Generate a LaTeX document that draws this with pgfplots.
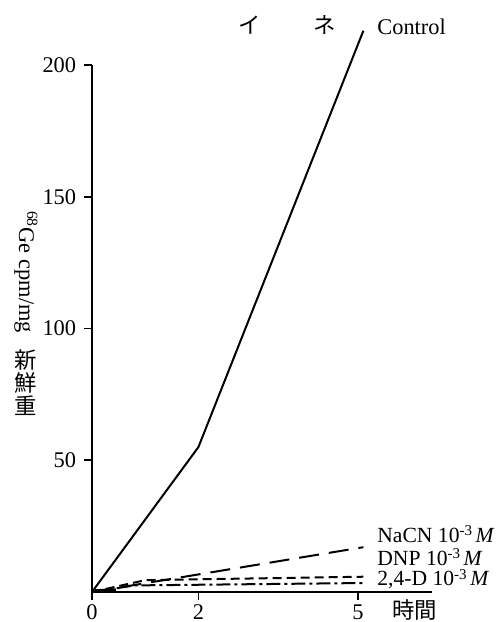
\documentclass[border=0pt]{standalone}
\usepackage{fontspec}
\setmainfont{Liberation Serif}
\newfontfamily\cjk{Noto Sans CJK JP}
\usepackage{pgfplots}
\pgfplotsset{compat=1.18}
\newcommand{\tmt}{10\raisebox{0.65ex}{\fontsize{7.5}{8}\selectfont -3}\,\textit{M}}
\begin{document}
\fontsize{11.2}{13}\selectfont
\begin{tikzpicture}
\useasboundingbox (0,0) rectangle (251.5pt,311pt);
\begin{axis}[
  at={(46pt,15pt)}, anchor=south west,
  scale only axis, width=170pt, height=263.5pt,
  xmin=0, xmax=6.39, ymin=0, ymax=200,
  axis x line=bottom, axis y line=left,
  axis line style={line width=1.1pt, -},
  xtick={0,2,5}, xticklabels={0,2,5},
  ytick={50,100,150,200},
  tick style={line width=0.8pt, black},
  major tick length=4pt,
  tick align=outside,
  xticklabel style={anchor=north, yshift=-2pt, inner sep=0pt},
  yticklabel style={xshift=0pt},
  tick label style={font=\fontsize{11.2}{13}\selectfont},
  /pgf/number format/assume math mode=true,
  clip=false,
]
\addplot[black, line width=1pt] coordinates {(0,0) (2,55) (5.1,213)};
\addplot[black, line width=1pt, dash pattern=on 10pt off 5pt] coordinates {(0,0) (5.1,17)};
\addplot[black, line width=1pt, dash pattern=on 4.5pt off 2.5pt] coordinates {(0,0) (1,4.5) (5.1,5.8)};
\addplot[black, line width=1pt, dash pattern=on 7pt off 2pt on 1.5pt off 2pt] coordinates {(0,0) (0.8,2.5) (5.1,3.4)};
\addplot[black, line width=1.6pt] coordinates {(0,0.4) (0.45,0.8)};
\end{axis}
\node at (125pt,298.5pt) {\cjk イ};
\node at (162.5pt,298.5pt) {\cjk ネ};
\node[anchor=west, inner sep=0pt] at (188.5pt,297.5pt) {Control};
\begin{scope}[every node/.style={anchor=west, inner sep=0pt, font=\fontsize{10.8}{12}\selectfont}]
\node at (188.5pt,44pt) {NaCN \tmt};
\node at (188.5pt,32.5pt) {DNP \tmt};
\node at (188.5pt,21.5pt) {2,4-D \tmt};
\end{scope}
\node[anchor=west, inner sep=0pt] at (196pt,6pt) {\cjk 時間};
\node[rotate=-90, inner sep=0pt] at (13pt,175pt) {\textsuperscript{68}Ge cpm/mg};
\node[inner sep=0pt] at (13pt,131pt) {\cjk 新};
\node[inner sep=0pt] at (13pt,119.5pt) {\cjk 鮮};
\node[inner sep=0pt] at (13pt,108pt) {\cjk 重};
\end{tikzpicture}
\end{document}
